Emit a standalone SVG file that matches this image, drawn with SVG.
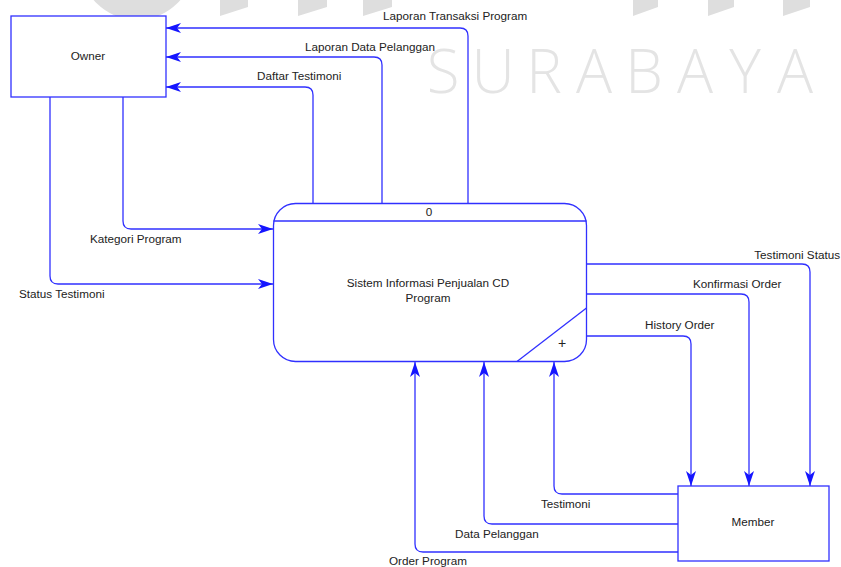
<svg xmlns="http://www.w3.org/2000/svg" width="841" height="567" viewBox="0 0 841 567">
<defs>
<style>
.wm{fill:#dedede}
.wmt{fill:#e4e4e4;font-family:"Open Sans","Liberation Sans",sans-serif;font-size:60px;font-weight:300;text-anchor:middle}
.box{fill:#fff;stroke:#3030ff;stroke-width:1.3}
.flow{fill:none;stroke:#3030ff;stroke-width:1.3;marker-end:url(#ah)}
.ln{fill:none;stroke:#3030ff;stroke-width:1.3}
.t{font-family:"Liberation Sans",Arial,sans-serif;font-size:11.7px;fill:#222}
.c{text-anchor:middle}
</style>
<marker id="ah" markerUnits="userSpaceOnUse" markerWidth="16" markerHeight="12" refX="15" refY="5" orient="auto">
<path d="M0,0 L15,5 L0,10 L4,5 z" fill="#1515ff"/>
</marker>
</defs>
<rect width="841" height="567" fill="#fff"/>
<g id="watermark">
<circle class="wm" cx="137" cy="-37" r="57"/>
<polygon class="wm" points="220,0 248,0 248,7 220,16"/>
<polygon class="wm" points="298,0 327,0 327,7 298,16"/>
<polygon class="wm" points="363,0 392,0 392,7 363,16"/>
<polygon class="wm" points="633,0 658,0 658,7 633,16"/>
<polygon class="wm" points="708,0 734,0 734,7 708,16"/>
<polygon class="wm" points="783,0 810,0 810,7 783,16"/>
<text class="wmt" y="93"><tspan x="443">S</tspan><tspan x="493">U</tspan><tspan x="544">R</tspan><tspan x="594">A</tspan><tspan x="644">B</tspan><tspan x="695">A</tspan><tspan x="745">Y</tspan><tspan x="795">A</tspan></text>
</g>
<g id="owner">
<rect class="box" x="11" y="16" width="155" height="81"/>
<text class="t c" x="88" y="60">Owner</text>
</g>
<g id="process0">
<rect class="box" x="273.5" y="203.5" width="313" height="158" rx="22" ry="22"/>
<line class="ln" x1="273.5" y1="221" x2="586.5" y2="221"/>
<line class="ln" x1="517" y1="361.5" x2="586.5" y2="308"/>
<text class="t c" x="429" y="216">0</text>
<text class="t c" x="428" y="287">Sistem Informasi Penjualan CD</text>
<text class="t c" x="428" y="302">Program</text>
<text class="t c" x="562" y="348" style="font-size:14px">+</text>
</g>
<g id="member">
<rect class="box" x="678" y="486" width="151" height="75"/>
<text class="t c" x="753" y="526">Member</text>
</g>
<g id="connectors">
<path class="flow" d="M468,203 V36 Q468,28 460,28 H166"/>
<path class="flow" d="M382,203 V65 Q382,57 374,57 H166"/>
<path class="flow" d="M313,203 V95 Q313,87 305,87 H166"/>
<path class="flow" d="M123,97 V221 Q123,229 131,229 H273"/>
<path class="flow" d="M50,97 V276 Q50,284 58,284 H273"/>
<path class="flow" d="M587,264 H802 Q810,264 810,272 V486"/>
<path class="flow" d="M587,294 H741 Q749,294 749,302 V486"/>
<path class="flow" d="M587,336 H683 Q691,336 691,344 V486"/>
<path class="flow" d="M678,494 H562 Q554,494 554,486 V362"/>
<path class="flow" d="M678,524 H492 Q484,524 484,516 V362"/>
<path class="flow" d="M678,552 H423 Q415,552 415,544 V362"/>
</g>
<g id="labels">
<text class="t" x="383" y="20">Laporan Transaksi Program</text>
<text class="t" x="305" y="51">Laporan Data Pelanggan</text>
<text class="t" x="257" y="80">Daftar Testimoni</text>
<text class="t" x="90" y="243">Kategori Program</text>
<text class="t" x="19" y="298">Status Testimoni</text>
<text class="t" x="840" y="259" text-anchor="end">Testimoni Status</text>
<text class="t" x="693" y="288">Konfirmasi Order</text>
<text class="t" x="645" y="329">History Order</text>
<text class="t" x="541" y="508">Testimoni</text>
<text class="t" x="455" y="538">Data Pelanggan</text>
<text class="t" x="389" y="565">Order Program</text>
</g>
</svg>
